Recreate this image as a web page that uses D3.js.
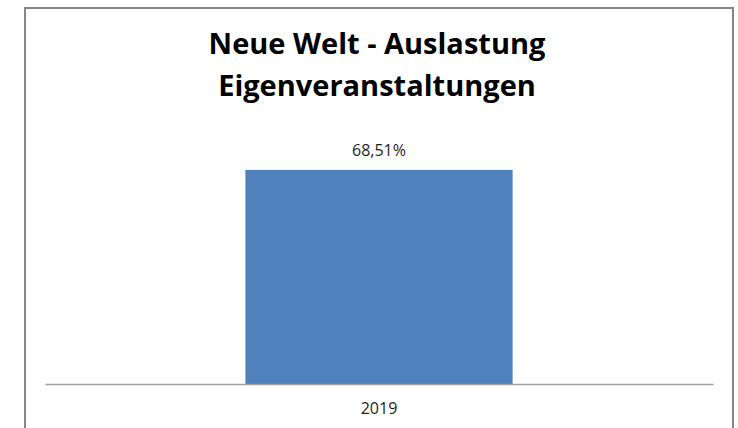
<!DOCTYPE html>
<html>
<head>
<meta charset="utf-8">
<script src="https://cdn.jsdelivr.net/npm/d3@7.9.0/dist/d3.min.js"></script>
<style>
  body { margin: 0; background: #fff; }
  svg { display: block; font-family: "Open Sans", "Liberation Sans", sans-serif; }
</style>
</head>
<body>
<div id="chart"></div>
<script>
// Chart data
const titleLines = ['Neue Welt - Auslastung', 'Eigenveranstaltungen'];
const years = ['2019'];
const values = [68.51];
const valueLabels = ['68,51%'];

const width = 738;
const height = 428;

const svg = d3.select('#chart')
  .append('svg')
  .attr('width', width)
  .attr('height', height);

// Outer frame (bottom edge runs off the picture)
svg.append('path')
  .attr('d', `M25,${height + 2}V8H733V${height + 2}`)
  .attr('fill', 'none')
  .attr('stroke', '#878787')
  .attr('stroke-width', 2);

// Plot area
const area = { left: 45, right: 713, top: 134, bottom: 384 };

const x = d3.scaleBand()
  .domain(years)
  .range([area.left, area.right])
  .paddingInner(0.6)
  .paddingOuter(0.3);

const y = d3.scaleLinear()
  .domain([0, 80])
  .range([area.bottom, area.top]);

// Bars
svg.append('g')
  .selectAll('rect')
  .data(values)
  .join('rect')
  .attr('x', (d, i) => x(years[i]))
  .attr('y', d => y(d))
  .attr('width', x.bandwidth())
  .attr('height', d => y(0) - y(d))
  .attr('fill', '#4f81bd');

// Value labels
svg.append('g')
  .selectAll('text')
  .data(values)
  .join('text')
  .attr('x', (d, i) => x(years[i]) + x.bandwidth() / 2)
  .attr('y', d => y(d) - 14)
  .attr('text-anchor', 'middle')
  .attr('font-size', 16)
  .attr('fill', '#1e1e1e')
  .text((d, i) => valueLabels[i]);

// X axis
const xAxis = svg.append('g')
  .attr('transform', `translate(0,${area.bottom})`)
  .call(d3.axisBottom(x).tickSize(0).tickPadding(19));
xAxis.select('.domain').attr('stroke', '#a0a0a0').attr('stroke-width', 1.5);
xAxis.selectAll('text')
  .attr('font-size', 16)
  .attr('font-family', '"Open Sans", "Liberation Sans", sans-serif')
  .attr('fill', '#1e1e1e');

// Title
svg.append('g')
  .selectAll('text')
  .data(titleLines)
  .join('text')
  .attr('x', 377)
  .attr('y', (d, i) => 54 + i * 42)
  .attr('text-anchor', 'middle')
  .attr('font-size', 29)
  .attr('font-weight', 'bold')
  .attr('fill', '#000')
  .text(d => d);
</script>
</body>
</html>
